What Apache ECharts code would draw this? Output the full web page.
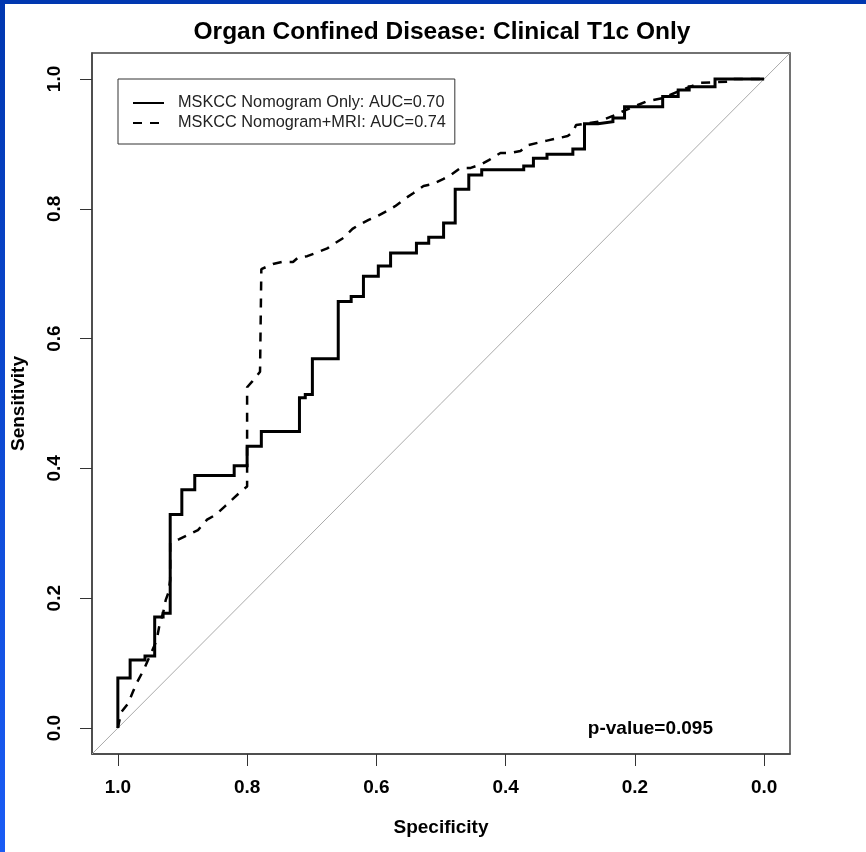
<!DOCTYPE html>
<html>
<head>
<meta charset="utf-8">
<script src="https://cdn.jsdelivr.net/npm/echarts@6/dist/echarts.min.js"></script>
<style>
  html, body { margin: 0; padding: 0; background: #fff; }
  #chart { width: 866px; height: 852px; }
</style>
</head>
<body>
<div id="chart"></div>
<script>
// tick positions on both axes
const specTicks = [0, 0.2, 0.4, 0.6, 0.8, 1.0]
const sensTicks = [0, 0.2, 0.4, 0.6, 0.8, 1.0]

// MSKCC nomogram only (step curve, one point per jump)
const nomoSpec = [1.0, 1.0, 0.981, 0.958, 0.943, 0.930, 0.919, 0.901, 0.881, 0.820, 0.800, 0.778,
  0.719, 0.710, 0.699, 0.659, 0.639, 0.620, 0.597, 0.578, 0.538, 0.519, 0.496, 0.478, 0.457,
  0.437, 0.372, 0.357, 0.336, 0.296, 0.278, 0.257, 0.234, 0.216, 0.157, 0.133, 0.116, 0.076, 0.0]
const nomoSens = [0.0, 0.077, 0.105, 0.111, 0.171, 0.177, 0.329, 0.367, 0.389, 0.404, 0.434, 0.457,
  0.509, 0.514, 0.569, 0.657, 0.665, 0.696, 0.712, 0.732, 0.747, 0.756, 0.778, 0.830, 0.852,
  0.860, 0.866, 0.878, 0.884, 0.892, 0.931, 0.934, 0.940, 0.957, 0.973, 0.983, 0.988, 1.0, 1.0]

// MSKCC nomogram + MRI
const mriSpec = [1.0, 0.995, 0.984, 0.977, 0.971, 0.963, 0.958, 0.950, 0.940, 0.935, 0.930, 0.926,
  0.922, 0.919, 0.919, 0.905, 0.891, 0.876, 0.862, 0.848, 0.834, 0.822, 0.808, 0.800, 0.800,
  0.792, 0.780, 0.778, 0.760, 0.746, 0.729, 0.721, 0.707, 0.691, 0.676, 0.664, 0.651, 0.637,
  0.629, 0.612, 0.598, 0.583, 0.571, 0.555, 0.543, 0.527, 0.513, 0.496, 0.485, 0.470, 0.454,
  0.439, 0.426, 0.408, 0.392, 0.377, 0.366, 0.336, 0.304, 0.296, 0.291, 0.257, 0.234, 0.217,
  0.183, 0.155, 0.133, 0.098, 0.054, 0.051, 0.0]
const mriSens = [0.0, 0.024, 0.038, 0.055, 0.069, 0.084, 0.094, 0.112, 0.135, 0.162, 0.177, 0.197,
  0.208, 0.228, 0.285, 0.291, 0.298, 0.305, 0.321, 0.329, 0.342, 0.353, 0.366, 0.372, 0.525,
  0.534, 0.549, 0.707, 0.715, 0.718, 0.718, 0.725, 0.727, 0.733, 0.739, 0.747, 0.755, 0.769,
  0.774, 0.783, 0.789, 0.797, 0.804, 0.816, 0.824, 0.835, 0.838, 0.846, 0.852, 0.863, 0.863,
  0.868, 0.875, 0.886, 0.886, 0.889, 0.898, 0.905, 0.912, 0.918, 0.929, 0.934, 0.943, 0.951,
  0.965, 0.971, 0.981, 0.994, 0.996, 1.0, 1.0]

const seriesNames = ['MSKCC Nomogram Only: AUC=0.70', 'MSKCC Nomogram+MRI: AUC=0.74']
const FONT = 'Liberation Sans, Arial, sans-serif'

const zip = (xs, ys) => xs.map((x, i) => [x, ys[i]])

const chart = echarts.init(document.getElementById('chart'), null, { renderer: 'canvas' })

const axisCommon = {
  type: 'value',
  min: -0.04,
  max: 1.04,
  splitLine: { show: false },
  axisLine: { show: true, onZero: false, lineStyle: { color: '#444', width: 1.5 } },
  nameLocation: 'middle',
  nameTextStyle: { fontSize: 19, fontWeight: 'bold', color: '#000', fontFamily: FONT }
}

chart.setOption({
  animation: false,
  backgroundColor: '#fff',
  title: {
    text: 'Organ Confined Disease: Clinical T1c Only',
    left: 437,
    top: 15,
    textAlign: 'center',
    textStyle: { fontSize: 24.5, fontWeight: 'bold', color: '#000', fontFamily: FONT }
  },
  legend: {
    orient: 'vertical',
    left: 118,
    top: 79,
    padding: [15, 9, 12, 14],
    itemWidth: 31,
    itemHeight: 14,
    itemGap: 2,
    borderColor: '#333',
    borderWidth: 1,
    selectedMode: false,
    data: seriesNames,
    itemStyle: { opacity: 0 },
    textStyle: { fontSize: 16.3, lineHeight: 18, color: '#222', fontFamily: FONT, padding: [0, 0, 0, 9] }
  },
  grid: {
    left: 92, right: 76, top: 53, bottom: 98,
    show: true, borderColor: '#444', borderWidth: 1.5, backgroundColor: '#fff'
  },
  xAxis: Object.assign({}, axisCommon, {
    inverse: true,
    name: 'Specificity',
    nameGap: 64,
    axisTick: { show: true, inside: false, length: 12, customValues: specTicks, lineStyle: { color: '#333' } },
    axisLabel: {
      customValues: specTicks, formatter: v => v.toFixed(1), margin: 24,
      fontSize: 19, fontWeight: 'bold', color: '#000', fontFamily: FONT
    }
  }),
  yAxis: Object.assign({}, axisCommon, {
    name: 'Sensitivity',
    nameGap: 64,
    axisTick: { show: true, inside: false, length: 12, customValues: sensTicks, lineStyle: { color: '#333' } },
    axisLabel: {
      customValues: sensTicks, formatter: v => v.toFixed(1), margin: 28, rotate: 90,
      fontSize: 19, fontWeight: 'bold', color: '#000', fontFamily: FONT
    }
  }),
  graphic: [
    { type: 'rect', shape: { x: 0, y: 0, width: 866, height: 4 }, style: { fill: '#0037b0' }, z: 100 },
    {
      type: 'rect', shape: { x: 0, y: 0, width: 5, height: 852 }, z: 100,
      style: {
        fill: new echarts.graphic.LinearGradient(0, 0, 0, 1, [
          { offset: 0, color: '#0037b0' }, { offset: 1, color: '#1a5cf5' }
        ])
      }
    },
    {
      type: 'text', x: 713, y: 729, z: 100,
      style: { text: 'p-value=0.095', align: 'right', verticalAlign: 'middle', font: 'bold 19px ' + FONT, fill: '#000' }
    }
  ],
  series: [
    {
      name: 'diagonal',
      type: 'line',
      silent: true,
      symbol: 'none',
      data: [[1.04, -0.04], [-0.04, 1.04]],
      lineStyle: { color: '#aaa', width: 1 }
    },
    {
      name: seriesNames[0],
      type: 'line',
      step: 'end',
      symbol: 'none',
      data: zip(nomoSpec, nomoSens),
      itemStyle: { color: '#000' },
      lineStyle: { color: '#000', width: 3, join: 'miter' }
    },
    {
      name: seriesNames[1],
      type: 'line',
      symbol: 'none',
      data: zip(mriSpec, mriSens),
      itemStyle: { color: '#000' },
      lineStyle: { color: '#000', width: 2.5, type: [9, 8] }
    }
  ]
})
</script>
</body>
</html>
